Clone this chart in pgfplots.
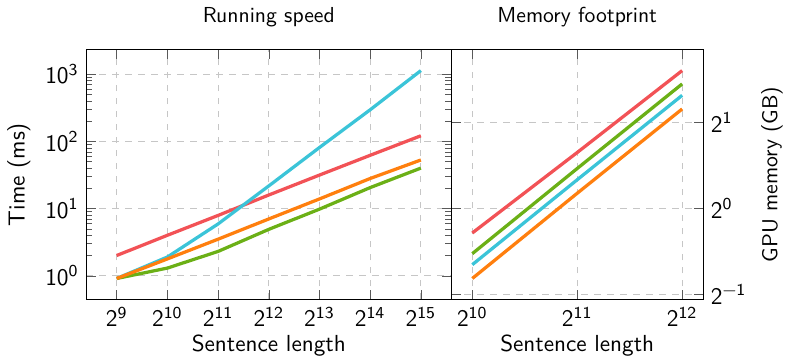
\documentclass[border=0pt]{standalone}
\usepackage{pgfplots}
\pgfplotsset{compat=1.18}
\renewcommand{\familydefault}{\sfdefault}
\definecolor{cred}{RGB}{242,82,86}
\definecolor{ccyan}{RGB}{59,196,216}
\definecolor{corange}{RGB}{255,127,14}
\definecolor{cgreen}{RGB}{107,176,22}
\begin{document}
\begin{tikzpicture}
\begin{axis}[name=left,
  scale only axis,
  width=168.4pt, height=115.1pt,
  xmode=log, ymode=log, log basis x=2,
  xminorticks=false,
  grid=major,
  major grid style={dashed, gray!45, line width=0.5pt},
  tick style={gray!70!black},
  tick label style={font=\fontsize{11}{13}\selectfont},
  label style={font=\fontsize{10.7}{13}\selectfont},
  xlabel style={yshift=3pt},
  title style={font=\fontsize{10}{12}\selectfont, yshift=1pt},
  xtick={512,1024,2048,4096,8192,16384,32768},
  xticklabels={2\textsuperscript{9},2\textsuperscript{10},2\textsuperscript{11},2\textsuperscript{12},2\textsuperscript{13},2\textsuperscript{14},2\textsuperscript{15}},
  ytick={1,10,100,1000},
  yticklabels={10\textsuperscript{0},10\textsuperscript{1},10\textsuperscript{2},10\textsuperscript{3}},
  title={Running speed},
  xlabel={Sentence length}, ylabel={Time (ms)},
]
\addplot[cred, line width=1.5pt] coordinates {(512,2.0) (1024,4.0) (2048,7.9) (4096,15.9) (8192,31.5) (16384,62) (32768,121)};
\addplot[ccyan, line width=1.5pt] coordinates {(512,0.91) (1024,1.9) (2048,5.9) (4096,21.7) (8192,81) (16384,295) (32768,1130)};
\addplot[cgreen, line width=1.5pt] coordinates {(512,0.91) (1024,1.30) (2048,2.3) (4096,4.9) (8192,9.8) (16384,20.5) (32768,40)};
\addplot[corange, line width=1.5pt] coordinates {(512,0.91) (1024,1.78) (2048,3.5) (4096,7.0) (8192,13.9) (16384,28) (32768,52.8)};
\end{axis}
\begin{axis}[name=right,
  at={(left.south east)}, anchor=south west,
  scale only axis,
  width=116.2pt, height=115.1pt,
  xmode=log, ymode=log, log basis x=2, log basis y=2,
  xminorticks=false, yminorticks=false,
  grid=major,
  major grid style={dashed, gray!45, line width=0.5pt},
  tick style={gray!70!black},
  tick label style={font=\fontsize{11}{13}\selectfont},
  label style={font=\fontsize{10.7}{13}\selectfont},
  xlabel style={yshift=3pt},
  title style={font=\fontsize{10}{12}\selectfont, yshift=1pt},
  xtick={1024,2048,4096},
  xticklabels={2\textsuperscript{10},2\textsuperscript{11},2\textsuperscript{12}},
  ytick={0.5,1,2},
  yticklabels={2\textsuperscript{\textminus1},2\textsuperscript{0},2\textsuperscript{1}},
  yticklabel pos=right,
  ylabel near ticks,
  title={Memory footprint},
  xlabel={Sentence length}, ylabel={GPU memory (GB)},
]
\addplot[cred, line width=1.5pt] coordinates {(1024,0.82) (2048,1.57) (4096,3.04)};
\addplot[cgreen, line width=1.5pt] coordinates {(1024,0.694) (2048,1.38) (4096,2.73)};
\addplot[ccyan, line width=1.5pt] coordinates {(1024,0.635) (2048,1.26) (4096,2.49)};
\addplot[corange, line width=1.5pt] coordinates {(1024,0.568) (2048,1.13) (4096,2.23)};
\end{axis}
\end{tikzpicture}
\end{document}
